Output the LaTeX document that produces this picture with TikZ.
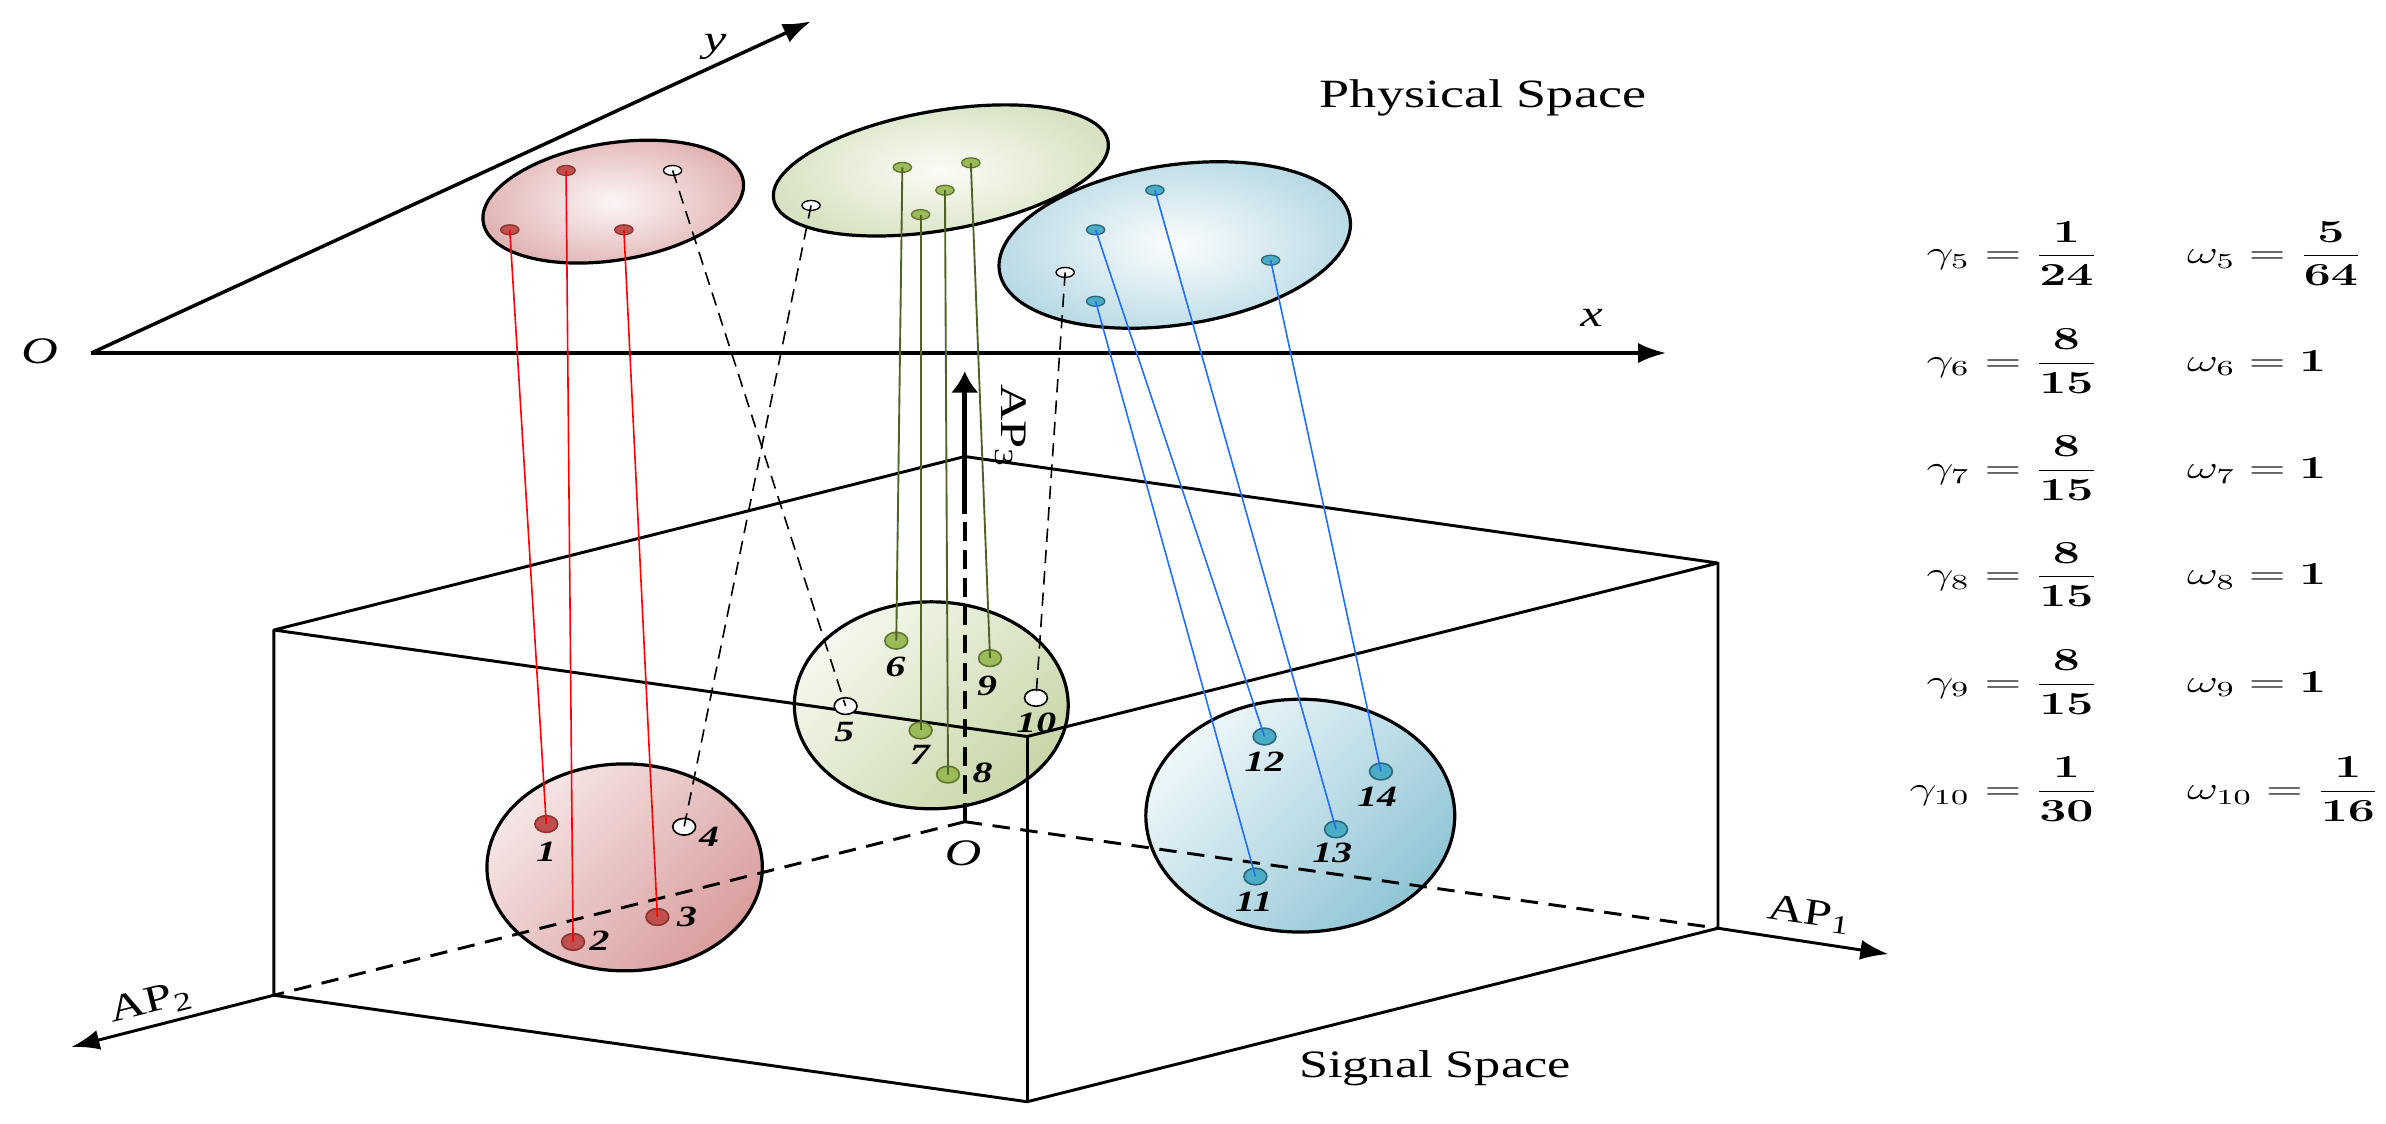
\documentclass[tikz,border=0pt]{standalone}
\usepackage[no-math]{fontspec}
\setmainfont{Liberation Serif}[FakeStretch=1.35]
\usepackage{graphicx}
\usetikzlibrary{arrows.meta,shapes.geometric}
\definecolor{rline}{HTML}{FF0000}
\definecolor{gline}{HTML}{4F6228}
\definecolor{bline}{HTML}{1F6FFF}
\definecolor{rdot}{HTML}{C0504D}
\definecolor{rdotd}{HTML}{8C3431}
\definecolor{gdot}{HTML}{9BBB59}
\definecolor{gdotd}{HTML}{5F7530}
\definecolor{bdot}{HTML}{4BACC6}
\definecolor{bdotd}{HTML}{2A6A7C}
\definecolor{rin}{HTML}{FCF6F6}\definecolor{rout}{HTML}{E2B4B4}
\definecolor{gin}{HTML}{FBFCF6}\definecolor{gout}{HTML}{D8E2C2}
\definecolor{bin}{HTML}{FBFDFE}\definecolor{bout}{HTML}{B9DAE5}
\definecolor{rl}{HTML}{F6E6E6}\definecolor{rd}{HTML}{D99D9D}
\definecolor{gl}{HTML}{F5F8EE}\definecolor{gd}{HTML}{C8D6A8}
\definecolor{bl}{HTML}{EEF7FA}\definecolor{bd}{HTML}{90C5D5}
\tikzset{
 boxedge/.style={line width=1.1pt, line join=round},
 dashedge/.style={line width=1.1pt, dash pattern=on 6.5pt off 4pt},
 axisline/.style={line width=1.3pt},
 axarrow/.style={-{Latex[length=10.5pt,width=7.5pt]}},
 rim/.style={line width=1.2pt},
 sdot/.style={ellipse, line width=0.6pt, minimum width=3mm, minimum height=2.2mm, inner sep=0pt},
 pdot/.style={ellipse, line width=0.5pt, minimum width=2.4mm, minimum height=1.3mm, inner sep=0pt},
 reddot/.style={fill=rdot, draw=rdotd},
 greendot/.style={fill=gdot, draw=gdotd},
 bluedot/.style={fill=bdot, draw=bdotd},
 whitedot/.style={fill=white, draw=black},
 rlink/.style={draw=rline, line width=0.6pt},
 glink/.style={draw=gline, line width=0.7pt},
 blink/.style={draw=bline, line width=0.6pt},
 wlink/.style={draw=black, line width=0.6pt, dash pattern=on 5pt off 3pt},
 num/.style={font=\fontsize{11}{11}\selectfont\bfseries\itshape, inner sep=0pt},
 lab/.style={font=\fontsize{15}{15}\selectfont, inner sep=0pt},
 ital/.style={font=\fontsize{14}{14}\selectfont\itshape, inner sep=0pt},
 eq/.style={font=\fontsize{12}{12}\selectfont, inner sep=0pt}
}
\begin{document}
\begin{tikzpicture}[x=0.2mm,y=-0.2mm]
\useasboundingbox (0,0) rectangle (1568,738);
% signal space clusters
\path[draw, rim, top color=rl, bottom color=rd, shading angle=45] (410.5,570) ellipse [x radius=18.1mm, y radius=13.6mm];
\path[draw, rim, top color=gl, bottom color=gd, shading angle=45] (612,463.5) ellipse [x radius=18mm, y radius=13.6mm];
\path[draw, rim, top color=bl, bottom color=bd, shading angle=45] (854.5,536) ellipse [x radius=20.3mm, y radius=15.3mm];
% physical space clusters
\path[draw, rim, inner color=rin, outer color=rout, rotate around={9:(403,132.5)}] (403,132.5) ellipse [x radius=17.3mm, y radius=7.7mm];
\path[draw, rim, inner color=gin, outer color=gout, rotate around={9.8:(618.3,112)}] (618.3,112) ellipse [x radius=22.3mm, y radius=7.85mm];
\path[draw, rim, inner color=bin, outer color=bout, rotate around={8.5:(772,161)}] (772,161) ellipse [x radius=23.3mm, y radius=10.5mm];
% box
\coordinate (L) at (180,414);
\coordinate (B) at (634,300);
\coordinate (R) at (1129,370);
\coordinate (F) at (675,484);
\coordinate (Lb) at (180,654);
\coordinate (Rb) at (1129,610);
\coordinate (Fb) at (675,724);
\coordinate (SO) at (634,540);
\coordinate (A3s) at (634,338);
\coordinate (A3t) at (634,244);
\coordinate (A1t) at (1241,627);
\coordinate (A2t) at (47,688);
\draw[boxedge] (L) -- (B) -- (R) -- (F) -- cycle;
\draw[boxedge] (L) -- (Lb) -- (Fb) -- (Rb) -- (R);
\draw[boxedge] (F) -- (Fb);
\draw[dashedge] (SO) -- (Lb);
\draw[dashedge] (SO) -- (Rb);
\draw[line width=1.6pt, dash pattern=on 7pt off 3.5pt] (SO) -- (A3s);
\draw[line width=1.7pt, -{Latex[length=8pt,width=10.5pt]}] (A3s) -- (A3t);
\draw[line width=1.1pt, axarrow] (Rb) -- (A1t);
\draw[line width=1.1pt, axarrow] (Lb) -- (A2t);
% physical axes
\coordinate (PO) at (60,232);
\coordinate (PX) at (1095,232);
\coordinate (PY) at (533,14);
\draw[axisline, axarrow] (PO) -- (PX);
\draw[axisline, axarrow] (PO) -- (PY);
% physical points
\node[pdot, reddot] (q1) at (335,151) {};
\node[pdot, reddot] (q2) at (372,112) {};
\node[pdot, reddot] (q3) at (410,151) {};
\node[pdot, whitedot] (q5) at (442,112) {};
\node[pdot, whitedot] (q4) at (533,135) {};
\node[pdot, greendot] (q6) at (593,110) {};
\node[pdot, greendot] (q7) at (605,141) {};
\node[pdot, greendot] (q8) at (621,125) {};
\node[pdot, greendot] (q9) at (638,107) {};
\node[pdot, whitedot] (q10) at (700,179) {};
\node[pdot, bluedot] (q11) at (720,198) {};
\node[pdot, bluedot] (q12) at (720,151) {};
\node[pdot, bluedot] (q13) at (759,125) {};
\node[pdot, bluedot] (q14) at (835,171) {};
% signal points
\node[sdot, reddot] (p1) at (359,541.5) {};
\node[sdot, reddot] (p2) at (376.6,619) {};
\node[sdot, reddot] (p3) at (432,602.6) {};
\node[sdot, whitedot] (p4) at (449.6,543.3) {};
\node[sdot, whitedot] (p5) at (555.7,464) {};
\node[sdot, greendot] (p6) at (589,421) {};
\node[sdot, greendot] (p7) at (605,480) {};
\node[sdot, greendot] (p8) at (623,509) {};
\node[sdot, greendot] (p9) at (650.6,432.5) {};
\node[sdot, whitedot] (p10) at (680.8,458.6) {};
\node[sdot, bluedot] (p11) at (825,576) {};
\node[sdot, bluedot] (p12) at (831,484) {};
\node[sdot, bluedot] (p13) at (878,545) {};
\node[sdot, bluedot] (p14) at (907.5,507) {};
% connectors
\draw[rlink] (q1.center) -- (p1.center);
\draw[rlink] (q2.center) -- (p2.center);
\draw[rlink] (q3.center) -- (p3.center);
\draw[glink] (q6.center) -- (p6.center);
\draw[glink] (q7.center) -- (p7.center);
\draw[glink] (q8.center) -- (p8.center);
\draw[glink] (q9.center) -- (p9.center);
\draw[blink] (q11.center) -- (p11.center);
\draw[blink] (q12.center) -- (p12.center);
\draw[blink] (q13.center) -- (p13.center);
\draw[blink] (q14.center) -- (p14.center);
\draw[wlink] (q4.center) -- (p4.center);
\draw[wlink] (q5.center) -- (p5.center);
\draw[wlink] (q10.center) -- (p10.center);
% point labels
\node[num] (l1) at (359,560) {1};
\node[num] (l2) at (394,618) {2};
\node[num] (l3) at (451.5,602.6) {3};
\node[num] (l4) at (466,550) {4};
\node[num] (l5) at (554.8,481) {5};
\node[num] (l6) at (588.5,438) {6};
\node[num] (l7) at (604.5,496) {7};
\node[num] (l8) at (645.7,508) {8};
\node[num] (l9) at (648.6,451) {9};
\node[num] (l10) at (681,475) {10};
\node[num] (l11) at (824,592.6) {11};
\node[num] (l12) at (831,500.6) {12};
\node[num] (l13) at (875.5,560.7) {13};
\node[num] (l14) at (905,523.6) {14};
% axis labels
\node[ital] (lO1) at (26,231) {O};
\node[ital] (lO2) at (633,560.6) {O};
\node[ital] (lx) at (1046,209) {x};
\node[ital] (ly) at (470,31) {y};
\node[lab] (phys) at (974.6,64.6) {Physical Space};
\node[lab, font=\fontsize{14.5}{14.5}\selectfont] (sig) at (943,702) {Signal Space};
\node[lab, font=\fontsize{14}{14}\selectfont, rotate=-8] (ap1) at (1189,601) {AP\textsubscript{1}};
\node[lab, font=\fontsize{14}{14}\selectfont, rotate=14] (ap2) at (99,659) {AP\textsubscript{2}};
\node[lab, font=\fontsize{14}{14}\selectfont, rotate=-90] (ap3) at (664,280) {AP\textsubscript{3}};
% equations
\node[eq, anchor=base east] (g5) at (1295,173.3) {\scalebox{1.5}[1]{$\gamma_5$}};
\node[eq, anchor=base west] (g5v) at (1295,173.3) {\scalebox{1.5}[1]{$\displaystyle{}=\frac{\mathbf{1}}{\mathbf{24}}$}};
\node[eq, anchor=base east] (g6) at (1295,243.9) {\scalebox{1.5}[1]{$\gamma_6$}};
\node[eq, anchor=base west] (g6v) at (1295,243.9) {\scalebox{1.5}[1]{$\displaystyle{}=\frac{\mathbf{8}}{\mathbf{15}}$}};
\node[eq, anchor=base east] (g7) at (1295,314.3) {\scalebox{1.5}[1]{$\gamma_7$}};
\node[eq, anchor=base west] (g7v) at (1295,314.3) {\scalebox{1.5}[1]{$\displaystyle{}=\frac{\mathbf{8}}{\mathbf{15}}$}};
\node[eq, anchor=base east] (g8) at (1295,384.3) {\scalebox{1.5}[1]{$\gamma_8$}};
\node[eq, anchor=base west] (g8v) at (1295,384.3) {\scalebox{1.5}[1]{$\displaystyle{}=\frac{\mathbf{8}}{\mathbf{15}}$}};
\node[eq, anchor=base east] (g9) at (1295,454.8) {\scalebox{1.5}[1]{$\gamma_9$}};
\node[eq, anchor=base west] (g9v) at (1295,454.8) {\scalebox{1.5}[1]{$\displaystyle{}=\frac{\mathbf{8}}{\mathbf{15}}$}};
\node[eq, anchor=base east] (g10) at (1295,525.3) {\scalebox{1.5}[1]{$\gamma_{10}$}};
\node[eq, anchor=base west] (g10v) at (1295,525.3) {\scalebox{1.5}[1]{$\displaystyle{}=\frac{\mathbf{1}}{\mathbf{30}}$}};
\node[eq, anchor=base west] (w5) at (1437,173.3) {\scalebox{1.5}[1]{$\displaystyle\omega_5=\frac{\mathbf{5}}{\mathbf{64}}$}};
\node[eq, anchor=base west] (w6) at (1437,243.9) {\scalebox{1.5}[1]{$\displaystyle\omega_6=\mathbf{1}$}};
\node[eq, anchor=base west] (w7) at (1437,314.3) {\scalebox{1.5}[1]{$\displaystyle\omega_7=\mathbf{1}$}};
\node[eq, anchor=base west] (w8) at (1437,384.3) {\scalebox{1.5}[1]{$\displaystyle\omega_8=\mathbf{1}$}};
\node[eq, anchor=base west] (w9) at (1437,454.8) {\scalebox{1.5}[1]{$\displaystyle\omega_9=\mathbf{1}$}};
\node[eq, anchor=base west] (w10) at (1437,525.3) {\scalebox{1.5}[1]{$\displaystyle\omega_{10}=\frac{\mathbf{1}}{\mathbf{16}}$}};
\end{tikzpicture}
\end{document}
